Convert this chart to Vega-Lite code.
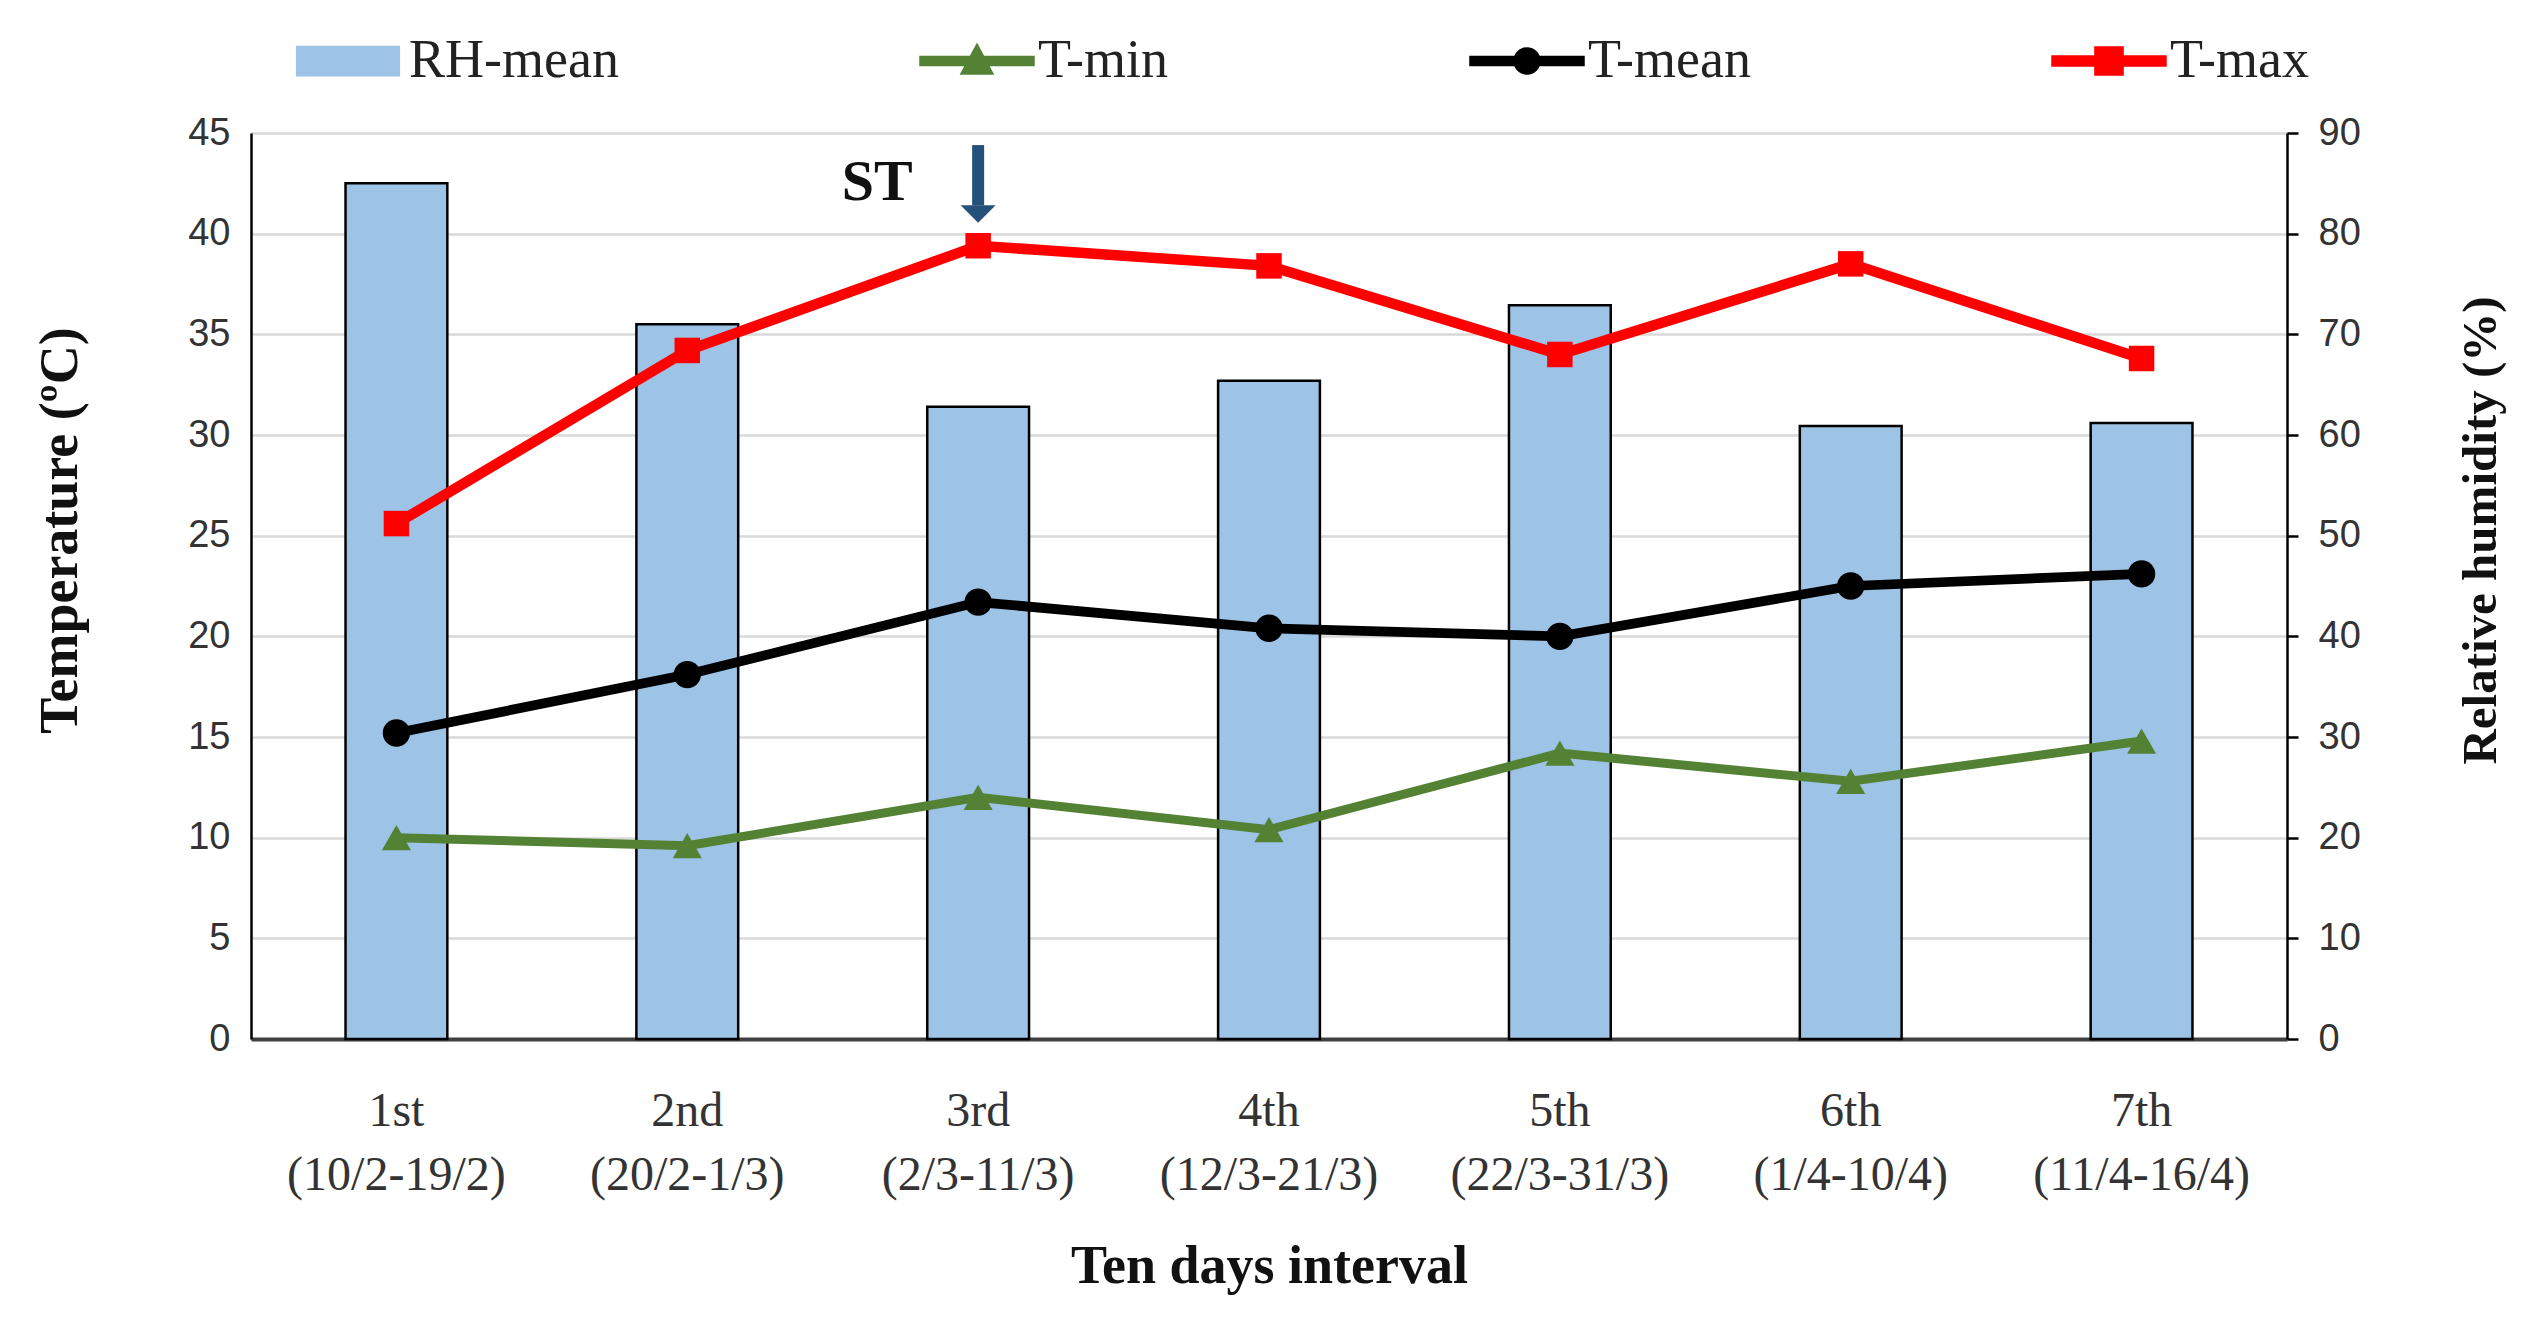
{
  "$schema": "https://vega.github.io/schema/vega-lite/v6.json",
  "width": 2036,
  "height": 906,
  "autosize": "none",
  "padding": {"left": 251, "top": 133, "right": 255, "bottom": 287},
  "background": "white",
  "config": {
    "view": {"stroke": null},
    "axis": {
      "labelFont": "Liberation Sans",
      "labelFontSize": 38,
      "labelColor": "#333333",
      "labelLimit": 600,
      "titleFont": "Liberation Serif",
      "titleFontSize": 54,
      "titleFontWeight": "bold",
      "titleColor": "#111111"
    },
    "legend": {
      "orient": "none",
      "legendX": 39,
      "legendY": -130,
      "direction": "horizontal",
      "padding": 0,
      "columnPadding": 296,
      "symbolSize": 12769,
      "symbolStrokeColor": "#111111",
      "labelFont": "Liberation Serif",
      "labelFontSize": 54,
      "labelColor": "#222222",
      "labelOffset": 3,
      "labelLimit": 600
    }
  },
  "datasets": {
    "weather": [
      {"period": "1st (10/2-19/2)", "series": "RH-mean", "value": 85.0},
      {"period": "2nd (20/2-1/3)", "series": "RH-mean", "value": 71.0},
      {"period": "3rd (2/3-11/3)", "series": "RH-mean", "value": 62.8},
      {"period": "4th (12/3-21/3)", "series": "RH-mean", "value": 65.4},
      {"period": "5th (22/3-31/3)", "series": "RH-mean", "value": 72.9},
      {"period": "6th (1/4-10/4)", "series": "RH-mean", "value": 60.9},
      {"period": "7th (11/4-16/4)", "series": "RH-mean", "value": 61.2},
      {"period": "1st (10/2-19/2)", "series": "T-min", "value": 10.0},
      {"period": "2nd (20/2-1/3)", "series": "T-min", "value": 9.6},
      {"period": "3rd (2/3-11/3)", "series": "T-min", "value": 12.0},
      {"period": "4th (12/3-21/3)", "series": "T-min", "value": 10.4},
      {"period": "5th (22/3-31/3)", "series": "T-min", "value": 14.2},
      {"period": "6th (1/4-10/4)", "series": "T-min", "value": 12.8},
      {"period": "7th (11/4-16/4)", "series": "T-min", "value": 14.8},
      {"period": "1st (10/2-19/2)", "series": "T-mean", "value": 15.2},
      {"period": "2nd (20/2-1/3)", "series": "T-mean", "value": 18.1},
      {"period": "3rd (2/3-11/3)", "series": "T-mean", "value": 21.7},
      {"period": "4th (12/3-21/3)", "series": "T-mean", "value": 20.4},
      {"period": "5th (22/3-31/3)", "series": "T-mean", "value": 20.0},
      {"period": "6th (1/4-10/4)", "series": "T-mean", "value": 22.5},
      {"period": "7th (11/4-16/4)", "series": "T-mean", "value": 23.1},
      {"period": "1st (10/2-19/2)", "series": "T-max", "value": 25.6},
      {"period": "2nd (20/2-1/3)", "series": "T-max", "value": 34.2},
      {"period": "3rd (2/3-11/3)", "series": "T-max", "value": 39.4},
      {"period": "4th (12/3-21/3)", "series": "T-max", "value": 38.4},
      {"period": "5th (22/3-31/3)", "series": "T-max", "value": 34.0},
      {"period": "6th (1/4-10/4)", "series": "T-max", "value": 38.5},
      {"period": "7th (11/4-16/4)", "series": "T-max", "value": 33.8}
    ],
    "note": [
      {"period": "3rd (2/3-11/3)", "label": "ST", "top": 44.4, "bottom": 41.4, "tip": 40.98, "texty": 42.5}
    ]
  },
  "data": {"name": "weather"},
  "encoding": {
    "x": {
      "field": "period",
      "type": "nominal",
      "sort": null,
      "scale": {"paddingInner": 0.65, "paddingOuter": 0.325},
      "axis": {
        "title": "Ten days interval",
        "labelAngle": 0,
        "labelFont": "Liberation Serif",
        "labelFontSize": 48,
        "labelLineHeight": 64,
        "labelExpr": "split(datum.label, ' ')",
        "labelPadding": 48,
        "ticks": false,
        "domainColor": "#404040",
        "domainWidth": 4,
        "titlePadding": 40
      }
    }
  },
  "layer": [
    {
      "transform": [{"filter": "datum.series == 'RH-mean'"}],
      "mark": {"type": "bar", "stroke": "black", "strokeWidth": 2.5},
      "encoding": {
        "y": {
          "field": "value",
          "type": "quantitative",
          "scale": {"domain": [0, 90]},
          "axis": {
            "orient": "right",
            "title": "Relative humidity (%)",
            "titleAngle": 270,
            "titleFontSize": 49,
            "titleY": 397,
            "values": [0, 10, 20, 30, 40, 50, 60, 70, 80, 90],
            "grid": false,
            "domainColor": "black",
            "domainWidth": 2.5,
            "tickColor": "black",
            "tickWidth": 2.5,
            "tickSize": 11,
            "labelPadding": 20,
            "titlePadding": 145
          }
        },
        "color": {
          "field": "series",
          "type": "nominal",
          "scale": {
            "domain": ["RH-mean", "T-min", "T-mean", "T-max"],
            "range": ["#9DC3E6", "#548235", "#000000", "#FF0000"]
          },
          "legend": {
            "title": null,
            "encode": {
              "symbols": {
                "update": {
                  "shape": {"signal": "datum.value === 'RH-mean' ? 'M-0.9,-0.25H0.9V0.25H-0.9Z' : datum.value === 'T-min' ? 'M-1,-0.07H1V0.07H-1Z M-0.27,0.22L0,-0.28L0.27,0.22Z' : datum.value === 'T-mean' ? 'M-1,-0.07H1V0.07H-1Z M-0.22,0A0.22,0.22 0 1,1 0.22,0A0.22,0.22 0 1,1 -0.22,0Z' : 'M-1,-0.08H1V0.08H-1Z M-0.24,-0.24H0.24V0.24H-0.24Z'"},
                  "size": {"value": 12769},
                  "fill": {"signal": "scale('color', datum.value)"},
                  "stroke": {"signal": "datum.value === 'RH-mean' ? '#111111' : scale('color', datum.value)"},
                  "strokeOpacity": {"value": 1},
                  "strokeWidth": {"value": 2.5},
                  "opacity": {"value": 1}
                }
              }
            }
          }
        }
      }
    },
    {
      "layer": [
        {
          "transform": [{"filter": "datum.series != 'RH-mean'"}],
          "mark": {"type": "line"},
          "encoding": {
            "y": {
              "field": "value",
              "type": "quantitative",
              "scale": {"domain": [0, 45]},
              "axis": {
                "orient": "left",
                "title": "Temperature (ºC)",
                "titleY": 397,
                "values": [0, 5, 10, 15, 20, 25, 30, 35, 40, 45],
                "grid": true,
                "gridColor": "#D9D9D9",
                "gridWidth": 2.5,
                "ticks": false,
                "domainColor": "black",
                "domainWidth": 2.5,
                "labelPadding": 21,
                "titlePadding": 100
              }
            },
            "color": {
              "field": "series",
              "type": "nominal",
              "legend": {
                "title": null,
                "encode": {
                  "symbols": {
                    "update": {
                      "shape": {"signal": "datum.value === 'RH-mean' ? 'M-0.9,-0.25H0.9V0.25H-0.9Z' : datum.value === 'T-min' ? 'M-1,-0.07H1V0.07H-1Z M-0.27,0.22L0,-0.28L0.27,0.22Z' : datum.value === 'T-mean' ? 'M-1,-0.07H1V0.07H-1Z M-0.22,0A0.22,0.22 0 1,1 0.22,0A0.22,0.22 0 1,1 -0.22,0Z' : 'M-1,-0.08H1V0.08H-1Z M-0.24,-0.24H0.24V0.24H-0.24Z'"},
                      "size": {"value": 12769},
                      "fill": {"signal": "scale('color', datum.value)"},
                      "stroke": {"signal": "datum.value === 'RH-mean' ? '#111111' : scale('color', datum.value)"},
                      "strokeOpacity": {"value": 1},
                      "strokeWidth": {"value": 2.5},
                      "opacity": {"value": 1}
                    }
                  }
                }
              }
            },
            "strokeWidth": {
              "field": "series",
              "type": "ordinal",
              "scale": {"domain": ["T-min", "T-mean", "T-max"], "range": [9, 10.5, 12]},
              "legend": null
            }
          }
        },
        {
          "transform": [{"filter": "datum.series != 'RH-mean'"}],
          "mark": {"type": "point", "filled": true, "opacity": 1},
          "encoding": {
            "y": {"field": "value", "type": "quantitative"},
            "color": {
              "field": "series",
              "type": "nominal",
              "legend": {
                "title": null,
                "encode": {
                  "symbols": {
                    "update": {
                      "shape": {"signal": "datum.value === 'RH-mean' ? 'M-0.9,-0.25H0.9V0.25H-0.9Z' : datum.value === 'T-min' ? 'M-1,-0.07H1V0.07H-1Z M-0.27,0.22L0,-0.28L0.27,0.22Z' : datum.value === 'T-mean' ? 'M-1,-0.07H1V0.07H-1Z M-0.22,0A0.22,0.22 0 1,1 0.22,0A0.22,0.22 0 1,1 -0.22,0Z' : 'M-1,-0.08H1V0.08H-1Z M-0.24,-0.24H0.24V0.24H-0.24Z'"},
                      "size": {"value": 12769},
                      "fill": {"signal": "scale('color', datum.value)"},
                      "stroke": {"signal": "datum.value === 'RH-mean' ? '#111111' : scale('color', datum.value)"},
                      "strokeOpacity": {"value": 1},
                      "strokeWidth": {"value": 2.5},
                      "opacity": {"value": 1}
                    }
                  }
                }
              }
            },
            "shape": {
              "field": "series",
              "type": "nominal",
              "scale": {"domain": ["T-min", "T-mean", "T-max"], "range": ["triangle-up", "circle", "square"]},
              "legend": null
            },
            "size": {
              "field": "series",
              "type": "ordinal",
              "scale": {"domain": ["T-min", "T-mean", "T-max"], "range": [850, 650, 900]},
              "legend": null
            }
          }
        },
        {
          "data": {"name": "note"},
          "mark": {"type": "rule", "color": "#24507A", "strokeWidth": 12},
          "encoding": {
            "y": {"field": "top", "type": "quantitative"},
            "y2": {"field": "bottom"}
          }
        },
        {
          "data": {"name": "note"},
          "mark": {"type": "point", "shape": "M-1,-0.5L1,-0.5L0,0.5Z", "filled": true, "color": "#24507A", "size": 1225, "opacity": 1},
          "encoding": {
            "y": {"field": "tip", "type": "quantitative"}
          }
        },
        {
          "data": {"name": "note"},
          "mark": {"type": "text", "font": "Liberation Serif", "fontSize": 58, "fontWeight": "bold", "color": "#111111", "dx": -101, "align": "center", "baseline": "middle"},
          "encoding": {
            "y": {"field": "texty", "type": "quantitative"},
            "text": {"field": "label"}
          }
        }
      ]
    }
  ],
  "resolve": {"scale": {"y": "independent"}}
}
